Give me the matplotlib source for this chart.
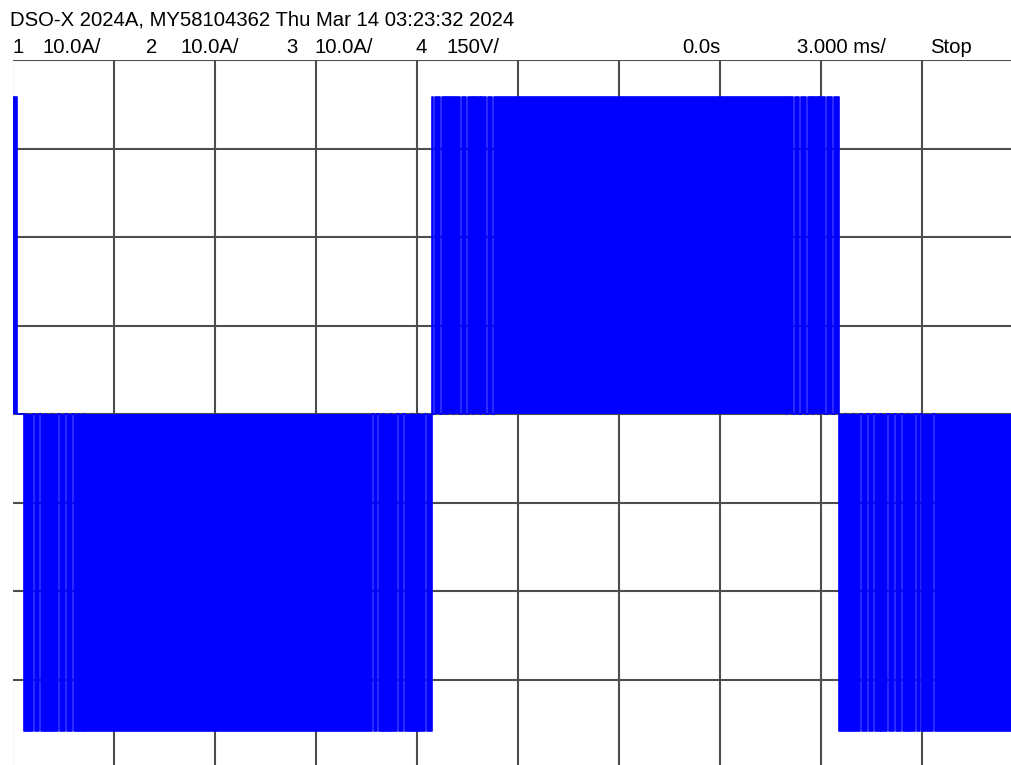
import matplotlib.pyplot as plt

# Screen setup
W, H = 1011, 765
T_DIV = 3.0      # ms/div
V_DIV = 150.0    # V/div
N_XDIV = 10
N_YDIV = 8

HEADER = "DSO-X 2024A, MY58104362 Thu Mar 14 03:23:32 2024"
STATUS = [("1", 12), ("10.0A/", 43), ("2", 146), ("10.0A/", 180),
          ("3", 286), ("10.0A/", 315), ("4", 416), ("150V/", 447),
          ("0.0s", 682), ("3.000 ms/", 797), ("Stop", 930)]

# Channel 4 trace
TAIL_LEVEL = 537.0          # end of previous half-cycle at the left edge
TAIL_END = -14.87
HALF_START = [-14.66, -2.56, 9.52]
HALF_END = [-2.56, 9.52, 15.5]
HALF_LEVEL = [-537.0, 537.0, -537.0]

# short returns to 0 V between pulses (ms), per half-cycle
NOTCHES = [
    [-14.60, -14.39, -14.21, -14.04, -13.83, -13.65, -13.44, -13.23, -13.06, -12.88,
     -4.33, -4.18, -4.01, -3.80, -3.59, -3.41, -3.15, -2.97, -2.76],
    [-2.52, -2.31, -2.14, -1.93, -1.72, -1.54, -1.34, -1.13, -0.95, -0.77,
     7.95, 8.16, 8.34, 8.55, 8.72, 8.93, 9.11, 9.32],
    [9.70, 9.94, 10.15, 10.36, 10.54, 10.74, 10.95, 11.16, 11.37, 11.57,
     11.78, 11.93, 12.32],
]
NOTCH_W = 0.045

GRID_COLOR = "#4d4d4d"
TRACE_COLOR = "#0000ff"

# build step points
t = [-T_DIV * N_XDIV / 2, TAIL_END]
v = [TAIL_LEVEL, 0.0]
for start, end, level, notches in zip(HALF_START, HALF_END, HALF_LEVEL, NOTCHES):
    t.append(start)
    v.append(level)
    for n in notches:
        t += [n, n + NOTCH_W]
        v += [0.0, level]
t.append(HALF_END[-1])
v.append(HALF_LEVEL[-1])

plt.rcParams["font.family"] = ["Liberation Sans", "DejaVu Sans"]

fig = plt.figure(figsize=(W / 100, H / 100), dpi=100)
ax_left = 12.5 / W
ax_top = 1 - 60 / H
ax_h = 708.6 / H
ax = fig.add_axes([ax_left, ax_top - ax_h, 1011.0 / W, ax_h])

x0 = -T_DIV * N_XDIV / 2
y0 = -V_DIV * N_YDIV / 2
ax.set_xlim(x0, -x0)
ax.set_ylim(y0, -y0)

for i in range(N_XDIV + 1):
    ax.axvline(x0 + i * T_DIV, color=GRID_COLOR, lw=1.5, zorder=1)
for j in range(N_YDIV + 1):
    ax.axhline(y0 + j * V_DIV, color=GRID_COLOR, lw=1.5, zorder=1)

ax.fill_between(t, 0, v, step="post", color=TRACE_COLOR, lw=0, zorder=2)
ax.step(t, v, where="post", color=TRACE_COLOR, lw=1.2, zorder=3)

ax.set_xticks([])
ax.set_yticks([])
for s in ax.spines.values():
    s.set_visible(False)

fig.text(10 / W, 1 - 26 / H, HEADER, fontsize=14.6, va="baseline", ha="left")
for label, px in STATUS:
    fig.text(px / W, 1 - 53 / H, label, fontsize=14.6, va="baseline", ha="left")

fig.savefig("out.png", dpi=100)
